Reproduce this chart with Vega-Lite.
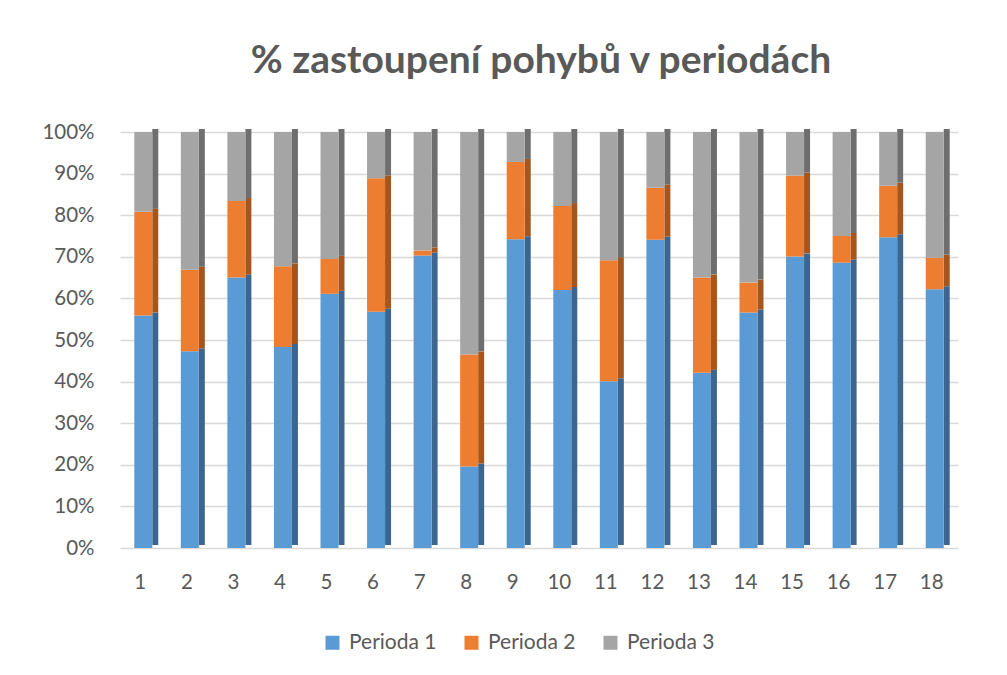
{
  "$schema": "https://vega.github.io/schema/vega-lite/v6.json",
  "autosize": "none",
  "width": 838,
  "height": 416,
  "padding": {"left": 120, "top": 132, "right": 49, "bottom": 127},
  "background": "white",
  "title": {
    "text": "% zastoupení pohybů v periodách",
    "font": "Lato",
    "fontSize": 39,
    "fontWeight": "bold",
    "color": "#595959",
    "anchor": "middle",
    "baseline": "alphabetic",
    "offset": 10,
    "dx": 2
  },
  "data": {
    "values": [
      {"k": 1, "s": "Perioda 1", "v": 55.9}, {"k": 1, "s": "Perioda 2", "v": 24.9}, {"k": 1, "s": "Perioda 3", "v": 19.2},
      {"k": 2, "s": "Perioda 1", "v": 47.3}, {"k": 2, "s": "Perioda 2", "v": 19.6}, {"k": 2, "s": "Perioda 3", "v": 33.1},
      {"k": 3, "s": "Perioda 1", "v": 65.0}, {"k": 3, "s": "Perioda 2", "v": 18.4}, {"k": 3, "s": "Perioda 3", "v": 16.6},
      {"k": 4, "s": "Perioda 1", "v": 48.3}, {"k": 4, "s": "Perioda 2", "v": 19.4}, {"k": 4, "s": "Perioda 3", "v": 32.3},
      {"k": 5, "s": "Perioda 1", "v": 61.1}, {"k": 5, "s": "Perioda 2", "v": 8.4}, {"k": 5, "s": "Perioda 3", "v": 30.5},
      {"k": 6, "s": "Perioda 1", "v": 56.8}, {"k": 6, "s": "Perioda 2", "v": 32.1}, {"k": 6, "s": "Perioda 3", "v": 11.1},
      {"k": 7, "s": "Perioda 1", "v": 70.3}, {"k": 7, "s": "Perioda 2", "v": 1.2}, {"k": 7, "s": "Perioda 3", "v": 28.5},
      {"k": 8, "s": "Perioda 1", "v": 19.6}, {"k": 8, "s": "Perioda 2", "v": 26.9}, {"k": 8, "s": "Perioda 3", "v": 53.5},
      {"k": 9, "s": "Perioda 1", "v": 74.2}, {"k": 9, "s": "Perioda 2", "v": 18.6}, {"k": 9, "s": "Perioda 3", "v": 7.2},
      {"k": 10, "s": "Perioda 1", "v": 62.0}, {"k": 10, "s": "Perioda 2", "v": 20.2}, {"k": 10, "s": "Perioda 3", "v": 17.8},
      {"k": 11, "s": "Perioda 1", "v": 40.1}, {"k": 11, "s": "Perioda 2", "v": 29.1}, {"k": 11, "s": "Perioda 3", "v": 30.8},
      {"k": 12, "s": "Perioda 1", "v": 74.1}, {"k": 12, "s": "Perioda 2", "v": 12.5}, {"k": 12, "s": "Perioda 3", "v": 13.4},
      {"k": 13, "s": "Perioda 1", "v": 42.1}, {"k": 13, "s": "Perioda 2", "v": 22.9}, {"k": 13, "s": "Perioda 3", "v": 35.0},
      {"k": 14, "s": "Perioda 1", "v": 56.6}, {"k": 14, "s": "Perioda 2", "v": 7.2}, {"k": 14, "s": "Perioda 3", "v": 36.2},
      {"k": 15, "s": "Perioda 1", "v": 70.1}, {"k": 15, "s": "Perioda 2", "v": 19.4}, {"k": 15, "s": "Perioda 3", "v": 10.5},
      {"k": 16, "s": "Perioda 1", "v": 68.6}, {"k": 16, "s": "Perioda 2", "v": 6.4}, {"k": 16, "s": "Perioda 3", "v": 25.0},
      {"k": 17, "s": "Perioda 1", "v": 74.7}, {"k": 17, "s": "Perioda 2", "v": 12.4}, {"k": 17, "s": "Perioda 3", "v": 12.9},
      {"k": 18, "s": "Perioda 1", "v": 62.2}, {"k": 18, "s": "Perioda 2", "v": 7.6}, {"k": 18, "s": "Perioda 3", "v": 30.2}
    ]
  },
  "encoding": {
    "x": {
      "field": "k",
      "type": "ordinal",
      "title": null,
      "scale": {"paddingInner": 0.61, "paddingOuter": 0.305},
      "axis": {
        "labelAngle": 0,
        "labelFont": "Lato",
        "labelFontSize": 20.5,
        "labelColor": "#595959",
        "labelPadding": 24,
        "labelOffset": -3,
        "ticks": false,
        "domain": false,
        "grid": false
      }
    },
    "y": {
      "field": "v",
      "type": "quantitative",
      "stack": "normalize",
      "title": null,
      "scale": {"domain": [0, 1]},
      "axis": {
        "values": [0, 0.1, 0.2, 0.3, 0.4, 0.5, 0.6, 0.7, 0.8, 0.9, 1],
        "format": ".0%",
        "labelFont": "Lato",
        "labelFontSize": 20.5,
        "labelColor": "#595959",
        "labelPadding": 26,
        "ticks": false,
        "domain": false,
        "grid": true,
        "gridColor": "#D9D9D9",
        "gridWidth": 1.5
      }
    },
    "order": {"field": "s", "type": "ordinal", "sort": "ascending"}
  },
  "layer": [
    {
      "mark": {"type": "bar", "size": 6, "xOffset": 12, "yOffset": -3},
      "encoding": {
        "color": {
          "field": "s",
          "type": "nominal",
          "scale": {"domain": ["Perioda 1", "Perioda 2", "Perioda 3"], "range": ["#3C6690", "#A5561E", "#6E6E6E"]},
          "legend": null
        }
      }
    },
    {
      "mark": {"type": "bar", "size": 18},
      "encoding": {
        "color": {
          "field": "s",
          "type": "nominal",
          "title": null,
          "scale": {"domain": ["Perioda 1", "Perioda 2", "Perioda 3"], "range": ["#5B9BD5", "#ED7D31", "#A5A5A5"]},
          "legend": {
            "orient": "none",
            "legendX": 202,
            "legendY": 500,
            "direction": "horizontal",
            "symbolType": "square",
            "symbolSize": 196,
            "symbolStrokeWidth": 0,
            "labelFont": "Lato",
            "labelFontSize": 21,
            "labelColor": "#595959",
            "labelOffset": 6,
            "columnPadding": 24
          }
        }
      }
    }
  ],
  "resolve": {"scale": {"color": "independent"}},
  "config": {
    "view": {"stroke": null}
  }
}
